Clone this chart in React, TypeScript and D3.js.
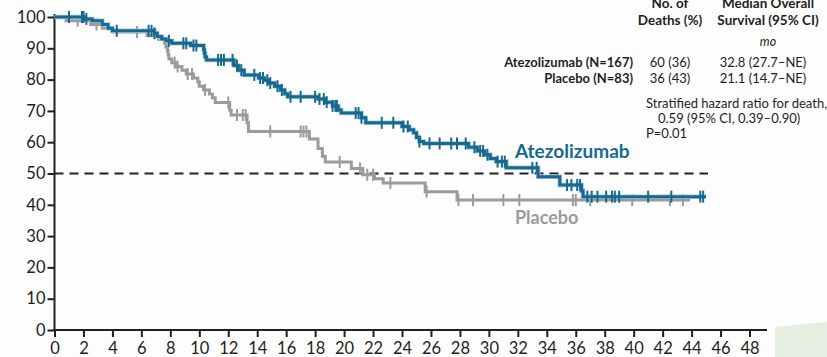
import React, { useRef, useEffect } from "react";
import * as d3 from "d3";

// Kaplan-Meier steps: [months, % surviving after the step]
const atezoSteps: [number, number][] = [
  [0, 100], [2.1, 99.4], [2.6, 98.8], [3.3, 97.6], [3.7, 96.4], [4.0, 95.6],
  [6.9, 94.8], [7.1, 93.8], [7.4, 93.0], [7.7, 92.4], [8.1, 91.6], [9.4, 90.9],
  [10.3, 89.6], [10.35, 88.4], [10.4, 87.2], [10.5, 86.3], [12.4, 84.5], [12.7, 83.0],
  [13.1, 81.5], [14.1, 80.5], [14.5, 79.8], [14.8, 78.9], [15.2, 77.9], [15.6, 76.7],
  [15.9, 75.5], [16.1, 74.5], [18.2, 73.8], [18.7, 72.8], [19.2, 71.6], [19.6, 70.3],
  [19.8, 69.3], [21.2, 67.8], [21.5, 66.2], [24.0, 65.0], [24.5, 64.0], [24.8, 63.0],
  [25.0, 61.5], [25.2, 60.2], [25.5, 59.6], [28.6, 58.4], [29.2, 57.2], [29.7, 56.0],
  [30.1, 54.8], [30.5, 53.8], [31.2, 51.8], [33.4, 49.0], [34.9, 46.3], [36.4, 44.5],
  [36.5, 42.6], [45.0, 42.6],
];
const atezoCensored = [
  1.0, 1.9, 2.0, 2.2, 4.3, 6.5, 6.7, 6.9, 7.9, 8.9, 9.1, 9.6, 9.8, 11.3, 11.5, 11.7,
  12.3, 12.6, 12.9, 13.8, 14.2, 14.4, 14.7, 14.9, 15.4, 15.7, 16.3, 17.0, 18.0, 18.3,
  18.6, 18.8, 19.2, 19.4, 19.5, 20.8, 21.0, 21.2, 22.6, 23.4, 24.1, 24.4, 25.2, 25.9,
  26.6, 27.4, 27.8, 28.4, 29.0, 29.4, 29.6, 29.9, 30.6, 30.9, 31.1, 33.0, 33.3, 35.4,
  35.7, 36.1, 36.3, 36.8, 37.1, 37.5, 38.1, 38.5, 38.7, 39.0, 41.0, 42.6, 44.6, 44.8,
];

const placeboSteps: [number, number][] = [
  [0, 100], [0.8, 98.8], [2.5, 97.6], [3.3, 96.4], [4.0, 95.2], [6.4, 94.0],
  [7.2, 92.8], [7.6, 91.6], [7.7, 90.4], [7.8, 89.1], [7.85, 87.9], [7.9, 86.6],
  [8.1, 85.4], [8.4, 84.2], [8.8, 83.0], [9.1, 81.8], [9.6, 80.5], [9.9, 79.2],
  [10.0, 77.9], [10.3, 76.7], [10.7, 75.4], [10.9, 74.2], [11.1, 72.7], [12.1, 70.2],
  [12.2, 68.7], [13.3, 66.2], [13.4, 63.4], [17.6, 61.0], [18.2, 58.0], [18.5, 55.5],
  [18.7, 53.7], [20.5, 51.6], [21.3, 49.6], [22.1, 48.3], [22.7, 47.0], [25.6, 44.2],
  [27.8, 41.5], [43.9, 41.5],
];
const placeboCensored = [
  1.6, 2.9, 5.7, 8.3, 8.5, 9.2, 9.5, 10.4, 12.0, 12.6, 13.0, 13.2, 14.9, 17.0, 17.2,
  17.4, 19.7, 21.1, 21.6, 22.0, 23.2, 25.7, 27.9, 28.9, 31.0, 32.1, 35.8, 36.0, 37.0,
  39.9, 42.5, 43.4,
];

const xTicks = d3.range(0, 49, 2);
const yTicks = d3.range(0, 101, 10);

const tableRows = [
  { group: "Atezolizumab (N=167)", deaths: "60 (36)", median: "32.8 (27.7–NE)" },
  { group: "Placebo (N=83)", deaths: "36 (43)", median: "21.1 (14.7–NE)" },
];

const W = 827;
const H = 357;
const BLUE = "#17698f";
const GRAY = "#9b9b9b";
const INK = "#231f20";
const FONT = "Lato, 'Open Sans', sans-serif";

const survivalAt = (steps: [number, number][], t: number) => {
  let s = steps[0][1];
  for (const [tt, v] of steps) if (tt <= t) s = v;
  return s;
};

export default function App() {
  const svgRef = useRef<SVGSVGElement>(null);

  useEffect(() => {
    const svg = d3.select(svgRef.current);
    svg.selectAll("*").remove();

    const x = d3.scaleLinear().domain([0, 48]).range([54.5, 749.5]);
    const y = d3.scaleLinear().domain([0, 100]).range([330, 17]);

    svg.append("rect").attr("width", W).attr("height", H).attr("fill", "#fdfdfd");
    // page corner in the scan
    svg
      .append("polygon")
      .attr("points", "775,327 827,322 827,357 775,357")
      .attr("fill", "#e6eedf");

    // axes
    const yAxis = svg
      .append("g")
      .attr("transform", `translate(${x(0)},0)`)
      .call(d3.axisLeft(y).tickValues(yTicks).tickSize(7).tickPadding(2));
    const xAxis = svg
      .append("g")
      .attr("transform", `translate(0,${y(0)})`)
      .call(d3.axisBottom(x).tickValues(xTicks).tickSize(7).tickPadding(5));
    [yAxis, xAxis].forEach((g) => {
      g.select(".domain").remove();
      g.selectAll("line").attr("stroke", INK).attr("stroke-width", 2);
      g.selectAll("text")
        .attr("fill", INK)
        .style("font-family", FONT)
        .style("font-size", "16.5px");
    });
    svg
      .append("line")
      .attr("x1", x(0)).attr("x2", x(0))
      .attr("y1", y(0) + 1).attr("y2", 14)
      .attr("stroke", INK).attr("stroke-width", 2);
    svg
      .append("line")
      .attr("x1", x(0) - 1).attr("x2", 767)
      .attr("y1", y(0)).attr("y2", y(0))
      .attr("stroke", INK).attr("stroke-width", 2);

    // median reference
    svg
      .append("line")
      .attr("x1", x(0)).attr("x2", 708)
      .attr("y1", y(50)).attr("y2", y(50))
      .attr("stroke", "#222").attr("stroke-width", 2)
      .attr("stroke-dasharray", "9,6");

    const line = d3
      .line<[number, number]>()
      .x((d) => x(d[0]))
      .y((d) => y(d[1]))
      .curve(d3.curveStepAfter);

    const drawCurve = (steps: [number, number][], cens: number[], color: string, halo?: string) => {
      const g = svg.append("g");
      if (halo) {
        g.append("path").attr("d", line(steps)).attr("fill", "none")
          .attr("stroke", halo).attr("stroke-width", 4.5);
      }
      g.append("path").attr("d", line(steps)).attr("fill", "none")
        .attr("stroke", color).attr("stroke-width", 3);
      g.selectAll(".cens")
        .data(cens)
        .enter()
        .append("line")
        .attr("x1", (d) => x(d)).attr("x2", (d) => x(d))
        .attr("y1", (d) => y(survivalAt(steps, d)) - 6)
        .attr("y2", (d) => y(survivalAt(steps, d)) + 6)
        .attr("stroke", color).attr("stroke-width", 2);
    };

    drawCurve(placeboSteps, placeboCensored, GRAY);
    drawCurve(atezoSteps, atezoCensored, BLUE, "#a9cadb");

    // curve labels
    svg.append("text").attr("x", 515).attr("y", 158).text("Atezolizumab")
      .attr("fill", BLUE).style("font-family", FONT).style("font-size", "19px").style("font-weight", 700);
    svg.append("text").attr("x", 515).attr("y", 224).text("Placebo")
      .attr("fill", GRAY).style("font-family", FONT).style("font-size", "18px").style("font-weight", 700);

    // table
    const t = svg.append("g").style("font-family", FONT).attr("fill", INK);
    const head = t.append("g").style("font-weight", 700).style("font-size", "13.5px").attr("text-anchor", "middle");
    head.append("text").attr("x", 670).attr("y", 8).text("No. of");
    head.append("text").attr("x", 670).attr("y", 25).text("Deaths (%)");
    head.append("text").attr("x", 768).attr("y", 8).text("Median Overall");
    head.append("text").attr("x", 768).attr("y", 25).text("Survival (95% CI)");
    t.append("text").attr("x", 768).attr("y", 46).attr("text-anchor", "middle")
      .style("font-style", "italic").style("font-size", "12.5px").text("mo");

    tableRows.forEach((r, i) => {
      const yy = 67 + i * 16;
      t.append("text").attr("x", 633).attr("y", yy).attr("text-anchor", "end")
        .style("font-weight", 700).style("font-size", "13px").text(r.group);
      t.append("text").attr("x", 670).attr("y", yy).attr("text-anchor", "middle")
        .style("font-size", "13px").text(r.deaths);
      t.append("text").attr("x", 763).attr("y", yy).attr("text-anchor", "middle")
        .style("font-size", "13px").text(r.median);
    });

    t.append("text").attr("x", 646).attr("y", 108).style("font-size", "13px")
      .text("Stratified hazard ratio for death,");
    t.append("text").attr("x", 658).attr("y", 123).style("font-size", "13px")
      .text("0.59 (95% CI, 0.39–0.90)");
    t.append("text").attr("x", 646).attr("y", 138).style("font-size", "13px").text("P=0.01");
  }, []);

  return (
    <svg
      ref={svgRef}
      width={W}
      height={H}
      style={{ position: "absolute", left: 0, top: 0 }}
    ></svg>
  );
}
